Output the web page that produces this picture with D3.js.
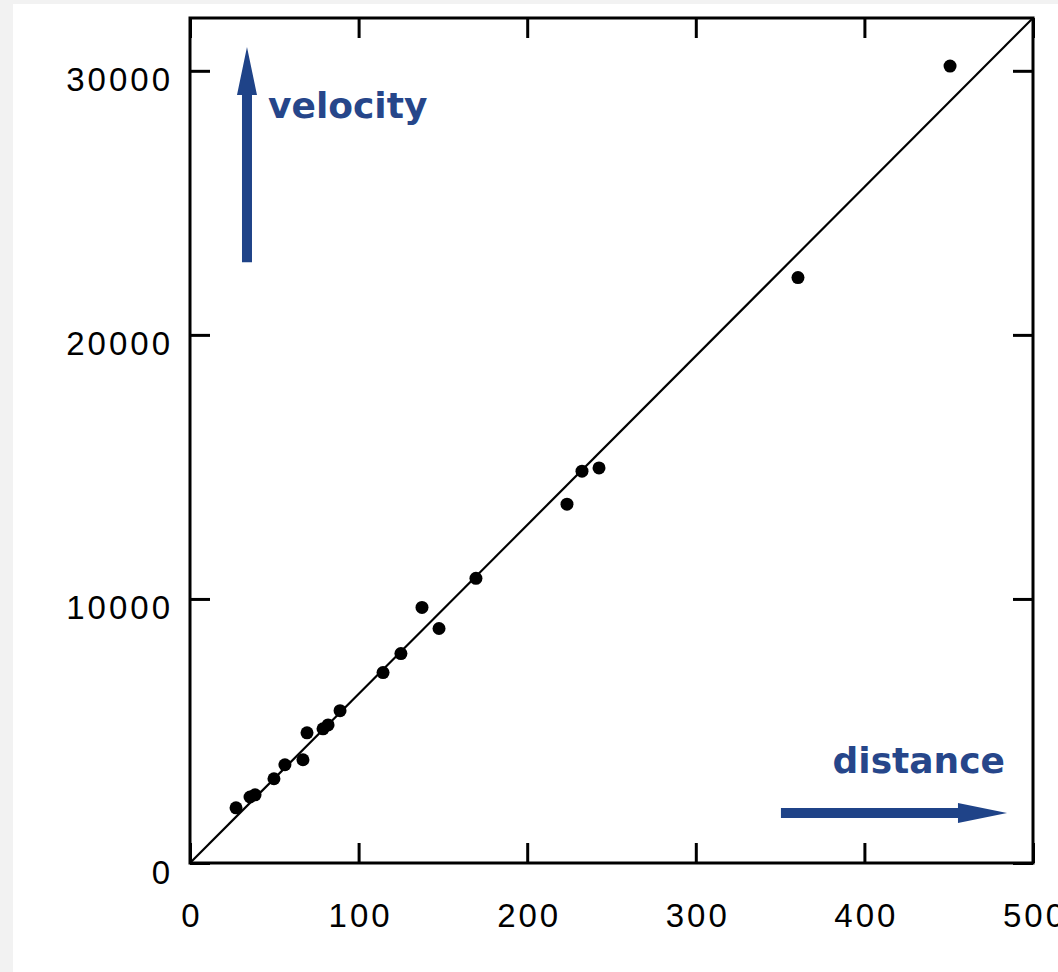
<!DOCTYPE html>
<meta charset="utf-8">
<style>
body{
	margin:0;
	background:#f2f2f2;
}
.tick line{
	stroke:#000;
	stroke-width:3px;
}
.tick text{
	font-family:"Liberation Sans", Arial, sans-serif;
	font-size:33px;
	letter-spacing:3px;
	fill:#000;
}
.note{
	font-family:"DejaVu Sans", Verdana, sans-serif;
	font-weight:bold;
	font-size:36px;
	fill:#26468a;
}
</style>
<body>
<script src="https://d3js.org/d3.v7.min.js"></script>
<script>

// distance (Mpc) and recession velocity (km/s)
var distance = [27.3, 35.6, 38.6, 49.8, 56.3, 67.0, 69.4, 78.9, 81.9, 89.0,
	114.5, 125.1, 137.6, 147.7, 169.6, 223.6, 232.5, 242.6, 360.6, 450.8];
var velocity = [2090, 2500, 2580, 3190, 3720, 3910, 4930, 5080, 5230, 5770,
	7210, 7930, 9680, 8880, 10780, 13590, 14840, 14960, 22170, 30180];

var xTicks = [0, 100, 200, 300, 400, 500];
var yTicks = [0, 10000, 20000, 30000];

// fitted line v = H * d
var fit = [[0, 0], [500, 32000]];

var W = 1058, H = 972;
var svg = d3.select("body").append("svg").attr("width", W).attr("height", H)
	.style("display", "block");

svg.append("rect").attr("x", 13).attr("y", 4).attr("width", W - 13).attr("height", H - 4)
	.attr("fill", "#fff");

var x = d3.scaleLinear().domain([0, 500]).range([190, 1033]);
var y = d3.scaleLinear().domain([0, 32000]).range([863, 18]);
var fmt = d3.format("d");

// axes, ticks pointing inward on all four sides
var gx = svg.append("g").attr("transform", "translate(0," + y(0) + ")")
	.call(d3.axisBottom(x).tickValues(xTicks).tickFormat(fmt)
		.tickSizeInner(-20).tickSizeOuter(0).tickPadding(41));
gx.selectAll("text").attr("dx", "1.5px");
var gy = svg.append("g").attr("transform", "translate(" + x(0) + ",0)")
	.call(d3.axisLeft(y).tickValues(yTicks).tickFormat(fmt)
		.tickSizeInner(-20).tickSizeOuter(0).tickPadding(17));
gy.selectAll("text").attr("dy", "20px");

svg.append("g").attr("transform", "translate(0," + y(32000) + ")")
	.call(d3.axisTop(x).tickValues(xTicks).tickSizeInner(-20).tickSizeOuter(0).tickFormat(""));
svg.append("g").attr("transform", "translate(" + x(500) + ",0)")
	.call(d3.axisRight(y).tickValues(yTicks).tickSizeInner(-20).tickSizeOuter(0).tickFormat(""));

svg.selectAll(".domain").remove();
svg.selectAll(".tick text").attr("font-family", null).attr("font-size", null);

// frame
svg.append("rect")
	.attr("x", x(0)).attr("y", y(32000))
	.attr("width", x(500) - x(0)).attr("height", y(0) - y(32000))
	.attr("fill", "none").attr("stroke", "#000").attr("stroke-width", 3);

// fit line
svg.append("path")
	.attr("d", d3.line().x(d => x(d[0])).y(d => y(d[1]))(fit))
	.attr("fill", "none").attr("stroke", "#000").attr("stroke-width", 2.2);

// galaxies
svg.append("g").selectAll("circle")
	.data(distance.map((d, i) => [d, velocity[i]]))
	.join("circle")
	.attr("cx", d => x(d[0]))
	.attr("cy", d => y(d[1]))
	.attr("r", 6.5)
	.attr("fill", "#000");

// annotation arrows
var blue = "#1f4388";
var upArrow = d3.path();
upArrow.moveTo(x(33.8) - 5, y(22750));
upArrow.lineTo(x(33.8) - 5, y(29080));
upArrow.lineTo(x(33.8) - 10, y(29080));
upArrow.lineTo(x(33.8), y(30900));
upArrow.lineTo(x(33.8) + 10, y(29080));
upArrow.lineTo(x(33.8) + 5, y(29080));
upArrow.lineTo(x(33.8) + 5, y(22750));
upArrow.closePath();
svg.append("path").attr("d", upArrow.toString()).attr("fill", blue);

var rightArrow = d3.path();
rightArrow.moveTo(x(350.5), y(1890) - 5);
rightArrow.lineTo(x(455.5), y(1890) - 5);
rightArrow.lineTo(x(455.5), y(1890) - 10);
rightArrow.lineTo(x(484.6), y(1890));
rightArrow.lineTo(x(455.5), y(1890) + 10);
rightArrow.lineTo(x(455.5), y(1890) + 5);
rightArrow.lineTo(x(350.5), y(1890) + 5);
rightArrow.closePath();
svg.append("path").attr("d", rightArrow.toString()).attr("fill", blue);

svg.append("text").attr("class", "note")
	.attr("x", x(46.3)).attr("y", y(28200))
	.text("velocity");
svg.append("text").attr("class", "note")
	.attr("x", x(483.4)).attr("y", y(3400))
	.attr("text-anchor", "end")
	.text("distance");

</script>
</body>
</html>
